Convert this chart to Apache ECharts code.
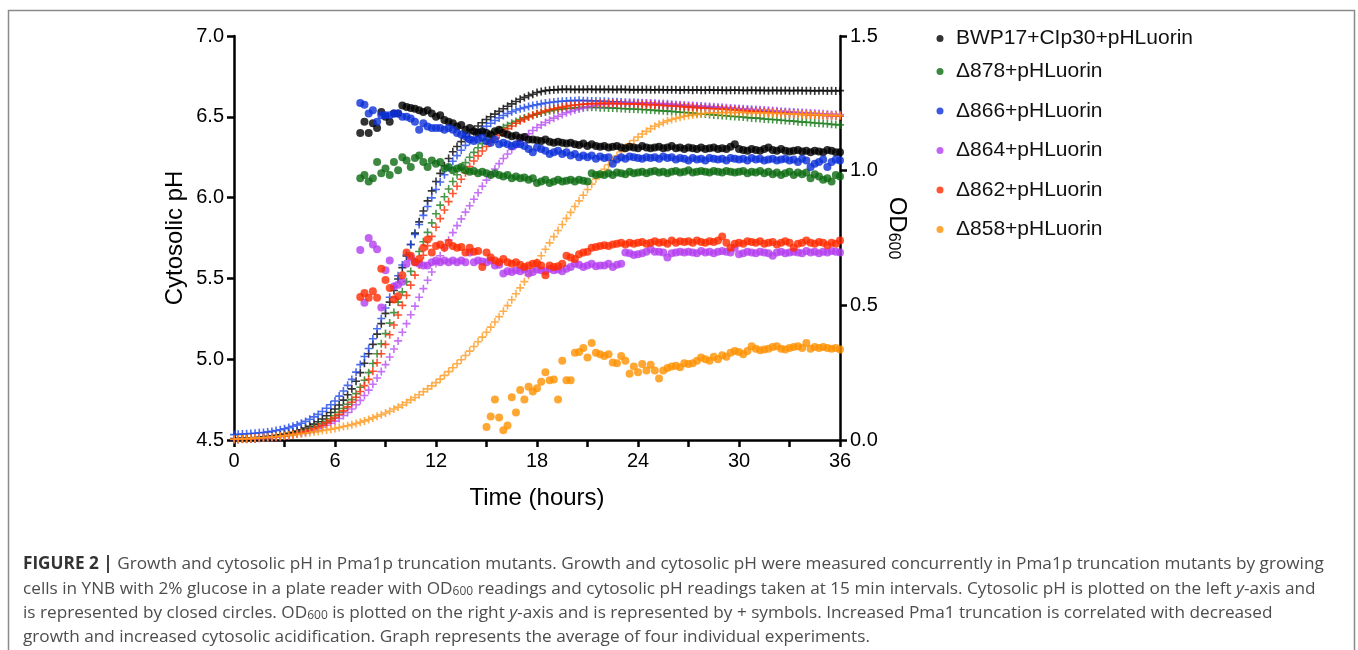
<!DOCTYPE html>
<html>
<head>
<meta charset="utf-8">
<title>Figure 2 - Growth and cytosolic pH</title>
<script src="https://cdn.jsdelivr.net/npm/echarts@6/dist/echarts.min.js"></script>
<style>
  html, body { margin: 0; padding: 0; background: #fff; }
  #chart { width: 1358px; height: 650px; }
</style>
</head>
<body>
<div id="chart"></div>
<script>
// time points (hours), readings every 15 min
const hours = [
  0, 0.25, 0.5, 0.75, 1, 1.25, 1.5, 1.75, 2, 2.25, 2.5, 2.75, 3, 3.25, 3.5, 3.75,
  4, 4.25, 4.5, 4.75, 5, 5.25, 5.5, 5.75, 6, 6.25, 6.5, 6.75, 7, 7.25, 7.5, 7.75,
  8, 8.25, 8.5, 8.75, 9, 9.25, 9.5, 9.75, 10, 10.25, 10.5, 10.75, 11, 11.25, 11.5, 11.75,
  12, 12.25, 12.5, 12.75, 13, 13.25, 13.5, 13.75, 14, 14.25, 14.5, 14.75, 15, 15.25, 15.5, 15.75,
  16, 16.25, 16.5, 16.75, 17, 17.25, 17.5, 17.75, 18, 18.25, 18.5, 18.75, 19, 19.25, 19.5, 19.75,
  20, 20.25, 20.5, 20.75, 21, 21.25, 21.5, 21.75, 22, 22.25, 22.5, 22.75, 23, 23.25, 23.5, 23.75,
  24, 24.25, 24.5, 24.75, 25, 25.25, 25.5, 25.75, 26, 26.25, 26.5, 26.75, 27, 27.25, 27.5, 27.75,
  28, 28.25, 28.5, 28.75, 29, 29.25, 29.5, 29.75, 30, 30.25, 30.5, 30.75, 31, 31.25, 31.5, 31.75,
  32, 32.25, 32.5, 32.75, 33, 33.25, 33.5, 33.75, 34, 34.25, 34.5, 34.75, 35, 35.25, 35.5, 35.75,
  36
]

const strains = ['BWP17+CIp30+pHLuorin', '\u0394878+pHLuorin', '\u0394866+pHLuorin', '\u0394864+pHLuorin', '\u0394862+pHLuorin', '\u0394858+pHLuorin']
const dotColors = ['#000000', '#0d6b12', '#0b2fd8', '#b43ff0', '#ff2a00', '#ff9100']
const crossColors = ['#000000', '#1c7d1c', '#1f48e6', '#b84ef2', '#ff2a00', '#ff9a1f']

// OD600 (right axis), one value per time point
const odBWP17 = [
  0.005, 0.006, 0.006, 0.007, 0.008, 0.009, 0.010, 0.012, 0.014, 0.015, 0.017, 0.019,
  0.022, 0.025, 0.029, 0.033, 0.038, 0.044, 0.051, 0.059, 0.068, 0.078, 0.090, 0.102,
  0.115, 0.130, 0.148, 0.168, 0.190, 0.218, 0.250, 0.285, 0.320, 0.355, 0.393, 0.432,
  0.470, 0.512, 0.555, 0.598, 0.640, 0.683, 0.726, 0.768, 0.810, 0.850, 0.888, 0.925,
  0.960, 0.990, 1.018, 1.045, 1.070, 1.090, 1.108, 1.125, 1.140, 1.153, 1.166, 1.178,
  1.190, 1.200, 1.210, 1.220, 1.230, 1.239, 1.248, 1.257, 1.265, 1.272, 1.278, 1.284,
  1.290, 1.294, 1.297, 1.299, 1.300, 1.301, 1.302, 1.302, 1.302, 1.301, 1.302, 1.301,
  1.302, 1.302, 1.301, 1.302, 1.301, 1.302, 1.301, 1.301, 1.302, 1.301, 1.301, 1.300,
  1.301, 1.300, 1.301, 1.300, 1.300, 1.301, 1.300, 1.300, 1.300, 1.300, 1.299, 1.300,
  1.300, 1.299, 1.300, 1.299, 1.299, 1.300, 1.299, 1.299, 1.299, 1.298, 1.299, 1.299,
  1.299, 1.298, 1.298, 1.299, 1.298, 1.298, 1.298, 1.297, 1.298, 1.298, 1.297, 1.298,
  1.297, 1.297, 1.298, 1.297, 1.297, 1.297, 1.296, 1.297, 1.297, 1.296, 1.297, 1.296,
  1.297
]
const odD878 = [
  0.003, 0.003, 0.004, 0.004, 0.005, 0.006, 0.007, 0.008, 0.009, 0.011, 0.013, 0.015,
  0.017, 0.020, 0.023, 0.026, 0.030, 0.035, 0.040, 0.046, 0.052, 0.060, 0.069, 0.079,
  0.090, 0.103, 0.117, 0.133, 0.150, 0.172, 0.196, 0.222, 0.250, 0.284, 0.320, 0.357,
  0.395, 0.434, 0.473, 0.512, 0.550, 0.588, 0.626, 0.663, 0.700, 0.736, 0.771, 0.806,
  0.840, 0.872, 0.903, 0.932, 0.960, 0.985, 1.008, 1.030, 1.050, 1.068, 1.085, 1.100,
  1.115, 1.128, 1.140, 1.150, 1.160, 1.168, 1.176, 1.183, 1.190, 1.196, 1.201, 1.206,
  1.210, 1.214, 1.218, 1.222, 1.225, 1.227, 1.229, 1.231, 1.232, 1.233, 1.234, 1.235,
  1.235, 1.235, 1.235, 1.234, 1.234, 1.233, 1.233, 1.232, 1.231, 1.230, 1.229, 1.229,
  1.228, 1.227, 1.226, 1.225, 1.224, 1.223, 1.222, 1.221, 1.220, 1.219, 1.217, 1.216,
  1.215, 1.214, 1.212, 1.211, 1.210, 1.209, 1.207, 1.206, 1.205, 1.204, 1.202, 1.201,
  1.200, 1.199, 1.197, 1.196, 1.195, 1.194, 1.192, 1.191, 1.190, 1.189, 1.187, 1.186,
  1.185, 1.184, 1.182, 1.181, 1.180, 1.179, 1.177, 1.176, 1.175, 1.174, 1.172, 1.171,
  1.170
]
const odD866 = [
  0.020, 0.021, 0.022, 0.023, 0.024, 0.025, 0.027, 0.028, 0.030, 0.032, 0.035, 0.038,
  0.042, 0.046, 0.051, 0.056, 0.062, 0.069, 0.077, 0.086, 0.095, 0.106, 0.118, 0.131,
  0.145, 0.163, 0.182, 0.203, 0.225, 0.252, 0.280, 0.310, 0.340, 0.376, 0.413, 0.451,
  0.490, 0.530, 0.570, 0.610, 0.650, 0.688, 0.726, 0.763, 0.800, 0.834, 0.867, 0.899,
  0.930, 0.958, 0.985, 1.011, 1.035, 1.056, 1.076, 1.094, 1.110, 1.125, 1.139, 1.152,
  1.165, 1.176, 1.186, 1.196, 1.205, 1.212, 1.219, 1.225, 1.230, 1.234, 1.238, 1.242,
  1.245, 1.248, 1.251, 1.253, 1.255, 1.257, 1.258, 1.259, 1.260, 1.260, 1.261, 1.260,
  1.260, 1.259, 1.259, 1.258, 1.258, 1.257, 1.256, 1.256, 1.255, 1.254, 1.253, 1.253,
  1.252, 1.251, 1.250, 1.249, 1.248, 1.247, 1.246, 1.245, 1.244, 1.243, 1.242, 1.241,
  1.240, 1.239, 1.238, 1.237, 1.236, 1.235, 1.234, 1.233, 1.232, 1.231, 1.230, 1.229,
  1.228, 1.227, 1.226, 1.225, 1.224, 1.223, 1.222, 1.221, 1.220, 1.219, 1.218, 1.217,
  1.216, 1.215, 1.214, 1.213, 1.212, 1.211, 1.210, 1.209, 1.208, 1.207, 1.206, 1.206,
  1.205
]
const odD864 = [
  0.002, 0.002, 0.003, 0.003, 0.004, 0.005, 0.006, 0.007, 0.008, 0.009, 0.011, 0.012,
  0.014, 0.016, 0.019, 0.022, 0.025, 0.029, 0.033, 0.037, 0.042, 0.048, 0.055, 0.062,
  0.070, 0.080, 0.091, 0.102, 0.115, 0.131, 0.147, 0.165, 0.185, 0.207, 0.230, 0.254,
  0.280, 0.308, 0.338, 0.368, 0.400, 0.432, 0.465, 0.497, 0.530, 0.562, 0.593, 0.624,
  0.655, 0.684, 0.713, 0.742, 0.770, 0.796, 0.821, 0.846, 0.870, 0.894, 0.918, 0.942,
  0.965, 0.986, 1.006, 1.026, 1.045, 1.062, 1.079, 1.095, 1.110, 1.124, 1.137, 1.149,
  1.160, 1.170, 1.179, 1.187, 1.195, 1.202, 1.209, 1.215, 1.220, 1.225, 1.229, 1.233,
  1.237, 1.240, 1.243, 1.245, 1.247, 1.248, 1.249, 1.250, 1.251, 1.251, 1.252, 1.252,
  1.252, 1.252, 1.251, 1.251, 1.250, 1.249, 1.249, 1.248, 1.247, 1.246, 1.245, 1.244,
  1.243, 1.242, 1.241, 1.240, 1.239, 1.238, 1.237, 1.236, 1.235, 1.234, 1.233, 1.232,
  1.231, 1.230, 1.229, 1.228, 1.227, 1.226, 1.225, 1.224, 1.223, 1.222, 1.221, 1.220,
  1.219, 1.218, 1.217, 1.216, 1.215, 1.214, 1.213, 1.212, 1.211, 1.210, 1.209, 1.209,
  1.208
]
const odD862 = [
  0.003, 0.003, 0.004, 0.004, 0.005, 0.006, 0.007, 0.008, 0.009, 0.010, 0.012, 0.014,
  0.016, 0.019, 0.021, 0.024, 0.028, 0.032, 0.037, 0.042, 0.048, 0.055, 0.064, 0.073,
  0.083, 0.095, 0.108, 0.123, 0.140, 0.159, 0.180, 0.202, 0.225, 0.255, 0.287, 0.320,
  0.355, 0.391, 0.427, 0.464, 0.500, 0.537, 0.575, 0.612, 0.650, 0.686, 0.721, 0.756,
  0.790, 0.822, 0.854, 0.885, 0.915, 0.942, 0.968, 0.992, 1.015, 1.036, 1.055, 1.073,
  1.090, 1.105, 1.119, 1.132, 1.145, 1.156, 1.166, 1.176, 1.185, 1.192, 1.199, 1.206,
  1.212, 1.217, 1.222, 1.226, 1.230, 1.233, 1.236, 1.239, 1.242, 1.244, 1.245, 1.247,
  1.248, 1.249, 1.249, 1.250, 1.250, 1.250, 1.250, 1.249, 1.249, 1.248, 1.248, 1.247,
  1.247, 1.246, 1.245, 1.245, 1.244, 1.243, 1.242, 1.241, 1.240, 1.239, 1.238, 1.237,
  1.236, 1.235, 1.234, 1.233, 1.232, 1.231, 1.230, 1.229, 1.228, 1.227, 1.226, 1.225,
  1.224, 1.223, 1.222, 1.221, 1.220, 1.219, 1.218, 1.217, 1.216, 1.215, 1.214, 1.213,
  1.212, 1.211, 1.210, 1.209, 1.208, 1.207, 1.207, 1.206, 1.205, 1.204, 1.204, 1.203,
  1.202
]
const odD858 = [
  0.003, 0.004, 0.004, 0.005, 0.006, 0.007, 0.008, 0.009, 0.010, 0.011, 0.013, 0.014,
  0.016, 0.018, 0.019, 0.021, 0.023, 0.025, 0.027, 0.030, 0.032, 0.035, 0.037, 0.040,
  0.043, 0.046, 0.050, 0.053, 0.057, 0.061, 0.066, 0.071, 0.076, 0.082, 0.088, 0.094,
  0.100, 0.107, 0.115, 0.122, 0.130, 0.139, 0.149, 0.158, 0.168, 0.179, 0.190, 0.201,
  0.213, 0.226, 0.240, 0.254, 0.268, 0.283, 0.298, 0.314, 0.330, 0.347, 0.365, 0.382,
  0.400, 0.419, 0.438, 0.458, 0.478, 0.499, 0.521, 0.543, 0.565, 0.588, 0.612, 0.636,
  0.660, 0.684, 0.708, 0.732, 0.755, 0.778, 0.800, 0.823, 0.845, 0.867, 0.888, 0.909,
  0.930, 0.950, 0.969, 0.987, 1.005, 1.022, 1.039, 1.055, 1.070, 1.085, 1.099, 1.112,
  1.125, 1.136, 1.146, 1.156, 1.165, 1.172, 1.179, 1.185, 1.190, 1.194, 1.198, 1.202,
  1.205, 1.207, 1.209, 1.211, 1.213, 1.214, 1.215, 1.215, 1.216, 1.216, 1.216, 1.216,
  1.216, 1.216, 1.215, 1.215, 1.215, 1.214, 1.214, 1.213, 1.213, 1.212, 1.212, 1.211,
  1.211, 1.210, 1.210, 1.209, 1.209, 1.208, 1.208, 1.207, 1.207, 1.206, 1.206, 1.205,
  1.205
]

// cytosolic pH (left axis); first five start at 7.5 h (index 30), the last at 15 h (index 60)
const phStart = 30
const phStartD858 = 60
const phBWP17 = [
  6.40, 6.47,
  6.40, 6.46, 6.43, 6.53, 6.50, 6.47, 6.52, 6.52, 6.57, 6.56, 6.555, 6.55,
  6.54, 6.53, 6.54, 6.52, 6.50, 6.51, 6.48, 6.47, 6.46, 6.44, 6.45, 6.42,
  6.43, 6.41, 6.40, 6.41, 6.40, 6.39, 6.41, 6.42, 6.40, 6.39, 6.38, 6.385,
  6.37, 6.375, 6.36, 6.36, 6.355, 6.35, 6.36, 6.345, 6.34, 6.345, 6.34, 6.335,
  6.34, 6.33, 6.325, 6.335, 6.32, 6.33, 6.32, 6.315, 6.32, 6.31, 6.315, 6.32,
  6.31, 6.305, 6.315, 6.31, 6.305, 6.32, 6.31, 6.305, 6.31, 6.315, 6.305, 6.31,
  6.32, 6.305, 6.31, 6.30, 6.31, 6.305, 6.30, 6.31, 6.30, 6.305, 6.31, 6.30,
  6.305, 6.30, 6.315, 6.33, 6.30, 6.295, 6.29, 6.30, 6.295, 6.29, 6.30, 6.31,
  6.295, 6.29, 6.30, 6.29, 6.285, 6.29, 6.295, 6.285, 6.29, 6.28, 6.29, 6.285,
  6.28, 6.295, 6.29, 6.28, 6.28
]
const phD878 = [
  6.12, 6.14,
  6.10, 6.12, 6.22, 6.15, 6.18, 6.14, 6.22, 6.17, 6.25, 6.23, 6.19, 6.245,
  6.26, 6.22, 6.19, 6.23, 6.21, 6.22, 6.18, 6.19, 6.17, 6.18, 6.19, 6.17,
  6.16, 6.165, 6.15, 6.16, 6.15, 6.14, 6.15, 6.14, 6.13, 6.14, 6.12, 6.13,
  6.12, 6.125, 6.11, 6.12, 6.09, 6.10, 6.11, 6.09, 6.10, 6.11, 6.10, 6.105,
  6.11, 6.10, 6.11, 6.105, 6.10, 6.15, 6.14, 6.145, 6.14, 6.15, 6.14, 6.155,
  6.15, 6.145, 6.16, 6.15, 6.155, 6.16, 6.15, 6.16, 6.165, 6.155, 6.16, 6.15,
  6.16, 6.165, 6.155, 6.16, 6.17, 6.155, 6.16, 6.165, 6.16, 6.155, 6.165, 6.16,
  6.155, 6.165, 6.16, 6.155, 6.16, 6.165, 6.15, 6.16, 6.155, 6.165, 6.15, 6.16,
  6.145, 6.155, 6.14, 6.15, 6.16, 6.14, 6.155, 6.145, 6.155, 6.12, 6.145, 6.13,
  6.11, 6.12, 6.10, 6.14, 6.13
]
const phD866 = [
  6.585, 6.575,
  6.52, 6.54, 6.47, 6.51, 6.51, 6.51, 6.52, 6.52, 6.50, 6.50, 6.49, 6.47,
  6.42, 6.46, 6.44, 6.43, 6.43, 6.43, 6.42, 6.43, 6.42, 6.40, 6.39, 6.38,
  6.36, 6.35, 6.36, 6.37, 6.35, 6.34, 6.36, 6.33, 6.34, 6.33, 6.32, 6.33,
  6.33, 6.32, 6.30, 6.28, 6.31, 6.30, 6.29, 6.27, 6.28, 6.29, 6.27, 6.28,
  6.26, 6.27, 6.25, 6.26, 6.25, 6.26, 6.24, 6.255, 6.245, 6.25, 6.21, 6.235,
  6.25, 6.24, 6.255, 6.25, 6.245, 6.24, 6.25, 6.245, 6.25, 6.24, 6.255, 6.245,
  6.25, 6.235, 6.245, 6.24, 6.23, 6.245, 6.235, 6.24, 6.23, 6.245, 6.24, 6.235,
  6.24, 6.23, 6.245, 6.24, 6.235, 6.24, 6.23, 6.245, 6.235, 6.24, 6.23, 6.235,
  6.24, 6.23, 6.235, 6.24, 6.23, 6.235, 6.22, 6.24, 6.23, 6.19, 6.21, 6.22,
  6.235, 6.19, 6.22, 6.235, 6.23
]
const phD864 = [
  5.675, 5.35,
  5.75, 5.71, 5.68, 5.32, 5.55, 5.61, 5.45, 5.46, 5.48, 5.59, 5.63, 5.60,
  5.59, 5.58, 5.58, 5.60, 5.61, 5.60, 5.61, 5.60, 5.61, 5.60, 5.61, 5.60,
  5.66, 5.60, 5.61, 5.605, 5.60, 5.61, 5.58, 5.585, 5.53, 5.545, 5.54, 5.55,
  5.545, 5.555, 5.53, 5.54, 5.555, 5.55, 5.545, 5.56, 5.55, 5.555, 5.545, 5.56,
  5.57, 5.59, 5.585, 5.57, 5.58, 5.59, 5.575, 5.58, 5.58, 5.59, 5.57, 5.585,
  5.59, 5.66, 5.655, 5.645, 5.65, 5.655, 5.665, 5.68, 5.665, 5.665, 5.66, 5.63,
  5.655, 5.66, 5.665, 5.66, 5.665, 5.66, 5.655, 5.67, 5.66, 5.665, 5.655, 5.665,
  5.67, 5.665, 5.66, 5.69, 5.65, 5.655, 5.665, 5.66, 5.655, 5.665, 5.66, 5.655,
  5.64, 5.66, 5.665, 5.655, 5.66, 5.665, 5.66, 5.655, 5.67, 5.66, 5.665, 5.655,
  5.665, 5.66, 5.67, 5.665, 5.66
]
const phD862 = [
  5.385, 5.41,
  5.38, 5.42, 5.38, 5.56, 5.49, 5.44, 5.37, 5.39, 5.52, 5.66, 5.64, 5.60,
  5.62, 5.69, 5.74, 5.66, 5.70, 5.71, 5.69, 5.72, 5.70, 5.69, 5.695, 5.66,
  5.69, 5.665, 5.67, 5.57, 5.66, 5.63, 5.61, 5.60, 5.62, 5.60, 5.59, 5.60,
  5.585, 5.57, 5.58, 5.59, 5.595, 5.58, 5.52, 5.58, 5.57, 5.575, 5.59, 5.64,
  5.63, 5.62, 5.65, 5.66, 5.665, 5.69, 5.695, 5.70, 5.705, 5.70, 5.71, 5.715,
  5.72, 5.71, 5.72, 5.715, 5.72, 5.725, 5.715, 5.72, 5.73, 5.72, 5.725, 5.715,
  5.735, 5.72, 5.73, 5.725, 5.73, 5.72, 5.735, 5.725, 5.72, 5.73, 5.725, 5.735,
  5.76, 5.72, 5.69, 5.715, 5.72, 5.715, 5.73, 5.725, 5.72, 5.73, 5.715, 5.72,
  5.725, 5.71, 5.72, 5.73, 5.72, 5.69, 5.715, 5.72, 5.735, 5.72, 5.715, 5.725,
  5.72, 5.705, 5.72, 5.715, 5.735
]
const phD858 = [
  4.58, 4.645, 4.75, 4.64, 4.56, 4.59, 4.765, 4.67, 4.81, 4.75, 4.83, 4.80,
  4.82, 4.86, 4.92, 4.87, 4.875, 4.75, 4.99, 4.87, 4.87, 5.04, 5.045, 5.07,
  5.01, 5.10, 5.04, 5.03, 5.02, 5.03, 4.98, 4.975, 5.02, 4.99, 4.91, 4.955,
  4.92, 4.97, 4.93, 4.965, 4.93, 4.88, 4.93, 4.945, 4.955, 4.96, 4.95, 4.975,
  4.97, 4.975, 4.99, 5.01, 5.00, 4.99, 5.015, 5.00, 5.025, 5.015, 5.04, 5.05,
  5.045, 5.03, 5.05, 5.08, 5.065, 5.055, 5.06, 5.065, 5.075, 5.08, 5.065, 5.06,
  5.07, 5.075, 5.08, 5.07, 5.10, 5.065, 5.075, 5.07, 5.075, 5.07, 5.065, 5.07,
  5.06
]

const odSets = [odBWP17, odD878, odD866, odD864, odD862, odD858]
const phSets = [phBWP17, phD878, phD866, phD864, phD862, phD858]
const phOffsets = [phStart, phStart, phStart, phStart, phStart, phStartD858]

const captionLines = [
  '{b|FIGURE 2 |} Growth and cytosolic pH in Pma1p truncation mutants. Growth and cytosolic pH were measured concurrently in Pma1p truncation mutants by growing',
  'cells in YNB with 2% glucose in a plate reader with OD{s|600} readings and cytosolic pH readings taken at 15 min intervals. Cytosolic pH is plotted on the left {i|y}-axis and',
  'is represented by closed circles. OD{s|600} is plotted on the right {i|y}-axis and is represented by + symbols. Increased Pma1 truncation is correlated with decreased',
  'growth and increased cytosolic acidification. Graph represents the average of four individual experiments.'
]

const FONT = '"Liberation Sans", Arial, Helvetica, sans-serif'
const CAPTION_FONT = '"Open Sans", "Liberation Sans", Arial, sans-serif'
const PLUS = 'path://M4,0H6V4H10V6H6V10H4V6H0V4H4Z'

let chart = echarts.init(document.getElementById('chart'))

let series = []
odSets.forEach(function (vals, k) {
  series.push({
    name: 'OD ' + strains[k],
    type: 'scatter',
    yAxisIndex: 1,
    symbol: PLUS,
    symbolSize: 8,
    itemStyle: { color: crossColors[k] },
    data: vals.map(function (v, i) { return [hours[i], v] })
  })
})
phSets.forEach(function (vals, k) {
  series.push({
    name: strains[k],
    type: 'scatter',
    yAxisIndex: 0,
    symbol: 'circle',
    symbolSize: 8,
    itemStyle: { color: dotColors[k] },
    data: vals.map(function (v, i) { return [hours[phOffsets[k] + i], v] })
  })
})

let legendText = { fontFamily: FONT, fontSize: 21, color: '#111' }

let option = {
  animation: false,
  backgroundColor: '#fff',
  textStyle: { fontFamily: FONT },
  grid: { left: 234, right: 518, top: 36, bottom: 210, outerBoundsMode: 'none' },
  legend: [
    {
      data: [strains[0]], orient: 'vertical', left: 936.5, top: 28, padding: 0,
      icon: 'circle', itemWidth: 22, itemHeight: 7, itemGap: 18.5,
      textStyle: legendText, selectedMode: false
    },
    {
      data: strains.slice(1), orient: 'vertical', left: 936.5, top: 61, padding: 0,
      icon: 'circle', itemWidth: 22, itemHeight: 7, itemGap: 18.5,
      textStyle: legendText, selectedMode: false
    }
  ],
  xAxis: {
    type: 'value', min: 0, max: 36, interval: 3,
    name: 'Time (hours)', nameLocation: 'middle', nameGap: 46,
    nameTextStyle: { fontSize: 24, color: '#000', fontFamily: FONT },
    axisLine: { lineStyle: { color: '#000', width: 2.5 } },
    axisTick: { length: 7, lineStyle: { color: '#000', width: 2.5 } },
    axisLabel: {
      fontSize: 20, color: '#000', margin: 11, fontFamily: FONT,
      formatter: function (v) { return v % 6 === 0 ? String(v) : '' }
    },
    splitLine: { show: false }
  },
  yAxis: [
    {
      type: 'value', min: 4.5, max: 7.0, interval: 0.5, position: 'left',
      name: 'Cytosolic pH', nameLocation: 'middle', nameGap: 47,
      nameTextStyle: { fontSize: 24, color: '#000', fontFamily: FONT },
      axisLine: { show: true, lineStyle: { color: '#000', width: 2.5 } },
      axisTick: { show: true, length: 7, lineStyle: { color: '#000', width: 2.5 } },
      axisLabel: { fontSize: 20, color: '#000', margin: 10, fontFamily: FONT, formatter: function (v) { return v.toFixed(1) } },
      splitLine: { show: false }
    },
    {
      type: 'value', min: 0, max: 1.5, interval: 0.5, position: 'right',
      name: '{a|OD}{b|600}', nameLocation: 'middle', nameGap: 45, nameRotate: -90,
      nameTextStyle: {
        color: '#000', fontFamily: FONT, padding: [0, 20, 0, 0],
        rich: {
          a: { fontSize: 24, color: '#000', fontFamily: FONT },
          b: { fontSize: 16, color: '#000', fontFamily: FONT, verticalAlign: 'bottom' }
        }
      },
      axisLine: { show: true, lineStyle: { color: '#000', width: 2.5 } },
      axisTick: { show: true, length: 7, lineStyle: { color: '#000', width: 2.5 } },
      axisLabel: { fontSize: 20, color: '#000', margin: 10, fontFamily: FONT, formatter: function (v) { return v.toFixed(1) } },
      splitLine: { show: false }
    }
  ],
  graphic: [
    {
      type: 'rect', silent: true,
      shape: { x: 8.5, y: 10.5, width: 1346, height: 700 },
      style: { fill: 'none', stroke: '#8a8a8a', lineWidth: 1.5 }
    }
  ].concat(captionLines.map(function (line, i) {
    return {
      type: 'text', silent: true, left: 23, top: 556 + i * 24.3,
      style: {
        text: line, fontSize: 17.2, fontFamily: CAPTION_FONT, fill: '#4d4d4d',
        rich: {
          b: { fontSize: 17.2, fontFamily: CAPTION_FONT, fontWeight: 'bold', fill: '#333' },
          s: { fontSize: 12, fontFamily: CAPTION_FONT, fill: '#4d4d4d', verticalAlign: 'bottom' },
          i: { fontSize: 17.2, fontFamily: CAPTION_FONT, fontStyle: 'italic', fill: '#4d4d4d' }
        }
      }
    }
  })),
  series: series
}

chart.setOption(option)
</script>
</body>
</html>
